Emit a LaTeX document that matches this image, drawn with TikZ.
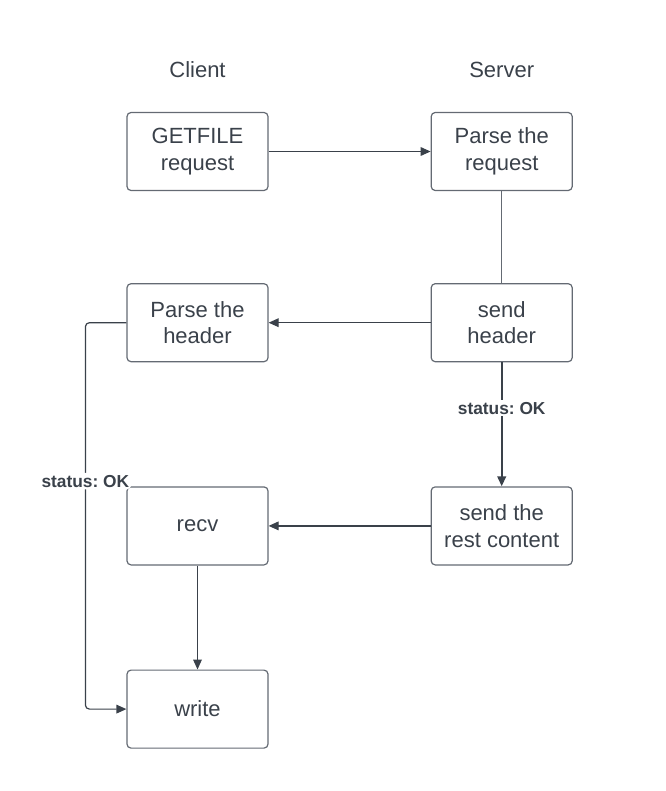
\documentclass[tikz,border=0pt]{standalone}
\usepackage{fontspec}
\setmainfont{Liberation Sans}
\usetikzlibrary{arrows.meta, positioning}
\usepackage{xcolor}
\definecolor{inkgray}{RGB}{58,65,74}
\definecolor{boxgray}{RGB}{100,106,115}
\frenchspacing

\begin{document}
\begin{tikzpicture}[ 
x=0.75pt, y=-0.75pt,
node distance=69pt and 121.5pt, 
box/.style={draw=boxgray, rectangle, rounded corners=3pt, line width=0.9pt, 
minimum width=105.75pt, minimum height=58.5pt, 
align=center, text=inkgray, font=\fontsize{16.5}{20}\selectfont}, 
title/.style={text=inkgray, font=\fontsize{16.5}{20}\selectfont},
arrow/.style={-{Triangle[length=7.5pt, width=6.5pt]}, line width=0.9pt, draw=inkgray},
link/.style={line width=0.9pt, draw=boxgray},
status/.style={fill=white, text=inkgray, inner sep=1.5pt, font=\fontsize{13}{15}\selectfont\bfseries}
]
\useasboundingbox (0,0) rectangle (666,791);

\node[box] (req) at (197.5,151.5) {GETFILE\\request};
\node[box, right=of req] (preq) {Parse the\\request}; 
\node[box, below=of preq] (shead) {send\\header}; 
\node[box, left=of shead] (phead) {Parse the\\header}; 
\node[box, below=93pt of shead] (srest) {send the\\rest content}; 
\node[box, left=of srest] (recv) {recv}; 
\node[box, below=78pt of recv] (write) {write};

\node[title] (client) at (req |- 0,70) {Client};
\node[title] (server) at (preq |- 0,70) {Server};

\draw[arrow] (req) -- (preq); 
\draw[link] (preq) -- (shead); 
\draw[arrow] (shead) -- (phead); 
\draw[arrow, line width=1.5pt] (shead) -- node[status, pos=0.37] {status: OK} (srest); 
\draw[arrow] (srest) -- (recv); 
\draw[arrow] (recv) -- (write); 
\coordinate[left=30.75pt of phead.west] (turn);
\draw[arrow, rounded corners=3pt] (phead.west) -- (turn) |- node[status, pos=0.205] {status: OK} (write.west);

\end{tikzpicture}
\end{document}
